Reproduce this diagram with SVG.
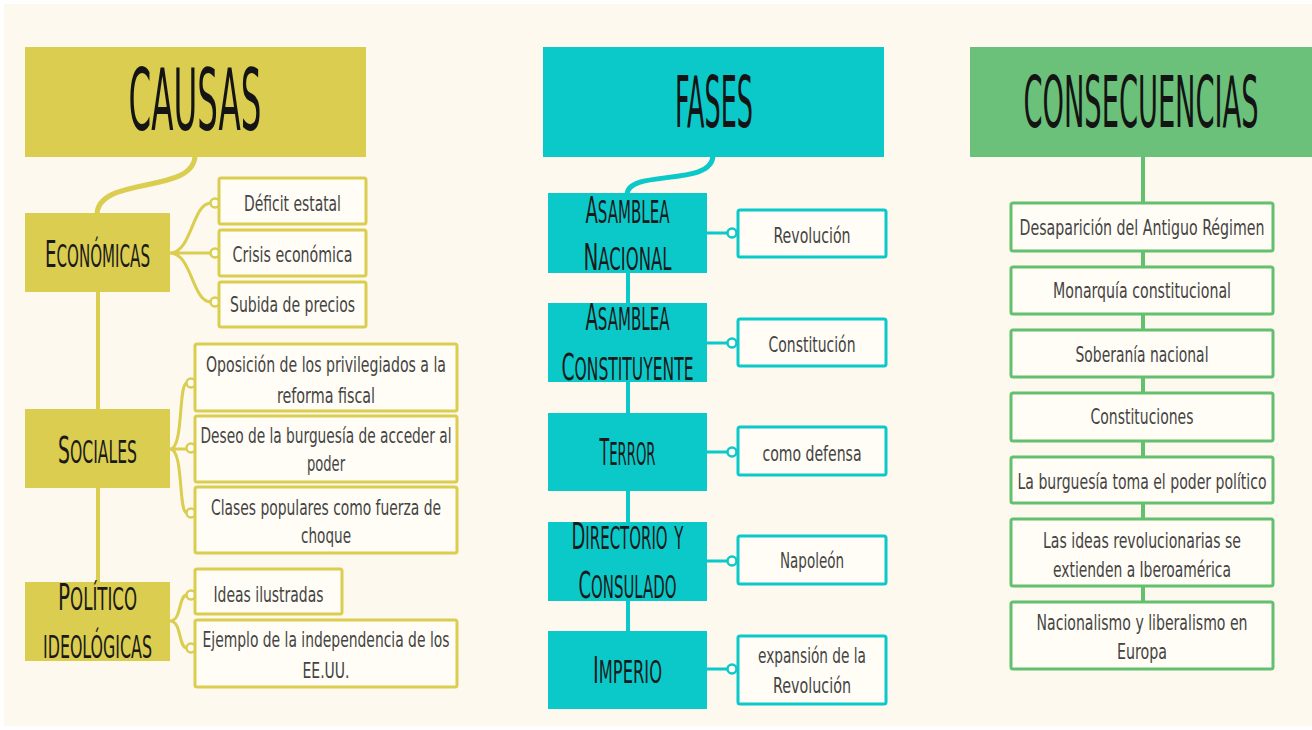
<svg xmlns="http://www.w3.org/2000/svg" width="1312" height="730" viewBox="0 0 1312 730">
<style>
.hd{font-family:"Liberation Sans Narrow","DejaVu Sans Condensed","Liberation Sans",sans-serif;fill:#141414;text-anchor:middle}
.cat{font-family:"Liberation Sans Narrow","DejaVu Sans Condensed","Liberation Sans",sans-serif;fill:#1a1a1a;text-anchor:middle;font-size:38px}
.sc{font-variant:small-caps;font-size:45px}
.tx{font-family:"Liberation Sans Narrow","DejaVu Sans Condensed","Liberation Sans",sans-serif;fill:#444;text-anchor:middle;font-size:21px}
.ol{fill:#dacd50}
.olb{fill:#fffdf5;stroke:#dacd50;stroke-width:3}
.te{fill:#0bc9c9}
.teb{fill:#fffdf5;stroke:#0bc9c9;stroke-width:3}
.gr{fill:#6bc17a}
.grb{fill:#fffdf5;stroke:#62c06f;stroke-width:3}
.lo{fill:none;stroke:#dacd50}
.lt{fill:none;stroke:#0bc9c9}
.lg{fill:none;stroke:#62c06f}
.dot-o{fill:#fffdf5;stroke:#dacd50;stroke-width:2.5}
.dot-t{fill:#fffdf5;stroke:#0bc9c9;stroke-width:2.5}
</style>
<rect x="0" y="0" width="1312" height="730" fill="#ffffff"/>
<rect x="4" y="4" width="1308" height="722" fill="#fdf9ee"/>

<g id="connectors">
  <path class="lo" stroke-width="5" d="M195,155 C195,195 97,175 97,215"/>
  <path class="lo" stroke-width="4" d="M98,292 V409 M98,488 V582"/>
  <path class="lo" stroke-width="3" d="M170,253 C192,253 192,203 211,203 M170,253 H211 M170,253 C192,253 192,302 211,302"/>
  <path class="lo" stroke-width="3" d="M170,449 C184,449 178,383 187,383 M170,449 H187 M170,449 C184,449 178,513 187,513"/>
  <path class="lo" stroke-width="3" d="M170,621 C182,621 178,595 187,595 M170,621 C182,621 178,648 187,648"/>
  <circle class="dot-o" cx="215" cy="203" r="4.5"/>
  <circle class="dot-o" cx="215" cy="253" r="4.5"/>
  <circle class="dot-o" cx="215" cy="302" r="4.5"/>
  <circle class="dot-o" cx="191" cy="383" r="4.5"/>
  <circle class="dot-o" cx="191" cy="448" r="4.5"/>
  <circle class="dot-o" cx="191" cy="513" r="4.5"/>
  <circle class="dot-o" cx="191" cy="595" r="4.5"/>
  <circle class="dot-o" cx="191" cy="648" r="4.5"/>
  <path class="lt" stroke-width="5" d="M713,155 C713,188 627,168 627,195"/>
  <path class="lt" stroke-width="4" d="M628,273 V303 M628,382 V413 M628,491 V522 M628,601 V631"/>
  <path class="lt" stroke-width="3" d="M707,233 H728 M707,343 H728 M707,452 H728 M707,561 H728 M707,669 H728"/>
  <circle class="dot-t" cx="732" cy="233" r="4.5"/>
  <circle class="dot-t" cx="732" cy="343" r="4.5"/>
  <circle class="dot-t" cx="732" cy="452" r="4.5"/>
  <circle class="dot-t" cx="732" cy="561" r="4.5"/>
  <circle class="dot-t" cx="732" cy="669" r="4.5"/>
  <path class="lg" stroke-width="4" d="M1143,157 V602"/>
</g>

<g id="causas">
  <rect class="ol" x="25" y="47" width="341" height="110"/>
  <text class="hd" transform="translate(195,130) scale(0.42,1)" font-size="86" textLength="316.7" lengthAdjust="spacingAndGlyphs">CAUSAS</text>
</g>
<g id="economicas">
  <rect class="ol" x="25" y="213" width="145" height="79"/>
  <text class="cat" transform="translate(97.5,267) scale(0.5,1)" textLength="210" lengthAdjust="spacingAndGlyphs">E<tspan class="sc">conómicas</tspan></text>
</g>
<g id="deficit">
  <rect class="olb" x="219" y="178" width="147" height="46" rx="2"/>
  <text class="tx" transform="translate(292.5,211) scale(0.75,1)" textLength="129.3" lengthAdjust="spacingAndGlyphs">Déficit estatal</text>
</g>
<g id="crisis">
  <rect class="olb" x="219" y="230" width="147" height="46" rx="2"/>
  <text class="tx" transform="translate(292.5,262) scale(0.75,1)" textLength="160" lengthAdjust="spacingAndGlyphs">Crisis económica</text>
</g>
<g id="subida">
  <rect class="olb" x="219" y="282" width="147" height="45" rx="2"/>
  <text class="tx" transform="translate(292.5,312) scale(0.75,1)" textLength="166.7" lengthAdjust="spacingAndGlyphs">Subida de precios</text>
</g>
<g id="sociales">
  <rect class="ol" x="25" y="409" width="145" height="79"/>
  <text class="cat" transform="translate(97.5,463) scale(0.5,1)" textLength="158" lengthAdjust="spacingAndGlyphs">S<tspan class="sc">ociales</tspan></text>
</g>
<g id="oposicion">
  <rect class="olb" x="195" y="344" width="262" height="67" rx="2"/>
  <text class="tx" transform="translate(326,372) scale(0.75,1)" textLength="320" lengthAdjust="spacingAndGlyphs">Oposición de los privilegiados a la</text>
  <text class="tx" transform="translate(326,403) scale(0.75,1)" textLength="130.7" lengthAdjust="spacingAndGlyphs">reforma fiscal</text>
</g>
<g id="deseo">
  <rect class="olb" x="195" y="416" width="262" height="66" rx="2"/>
  <text class="tx" transform="translate(326,443) scale(0.75,1)" textLength="334.7" lengthAdjust="spacingAndGlyphs">Deseo de la burguesía de acceder al</text>
  <text class="tx" transform="translate(326,471) scale(0.75,1)" textLength="50.7" lengthAdjust="spacingAndGlyphs">poder</text>
</g>
<g id="clases">
  <rect class="olb" x="195" y="487" width="262" height="66" rx="2"/>
  <text class="tx" transform="translate(326,515) scale(0.75,1)" textLength="306.7" lengthAdjust="spacingAndGlyphs">Clases populares como fuerza de</text>
  <text class="tx" transform="translate(326,543) scale(0.75,1)" textLength="66.7" lengthAdjust="spacingAndGlyphs">choque</text>
</g>
<g id="politico">
  <rect class="ol" x="25" y="582" width="145" height="79"/>
  <text class="cat" transform="translate(97.5,610) scale(0.5,1)" textLength="158" lengthAdjust="spacingAndGlyphs">P<tspan class="sc">olítico</tspan></text>
  <text class="cat" transform="translate(97.5,658) scale(0.5,1)" textLength="218" lengthAdjust="spacingAndGlyphs"><tspan class="sc">ideológicas</tspan></text>
</g>
<g id="ideas">
  <rect class="olb" x="195" y="569" width="147" height="45" rx="2"/>
  <text class="tx" transform="translate(268.5,602) scale(0.75,1)" textLength="146.7" lengthAdjust="spacingAndGlyphs">Ideas ilustradas</text>
</g>
<g id="ejemplo">
  <rect class="olb" x="195" y="620" width="262" height="67" rx="2"/>
  <text class="tx" transform="translate(326,647) scale(0.75,1)" textLength="329.3" lengthAdjust="spacingAndGlyphs">Ejemplo de la independencia de los</text>
  <text class="tx" transform="translate(326,678) scale(0.75,1)" textLength="62.7" lengthAdjust="spacingAndGlyphs">EE.UU.</text>
</g>

<g id="fases">
  <rect class="te" x="543" y="47" width="341" height="110"/>
  <text class="hd" transform="translate(714,127) scale(0.42,1)" font-size="72" textLength="185.7" lengthAdjust="spacingAndGlyphs">FASES</text>
</g>
<g id="asamblea-nacional">
  <rect class="te" x="548" y="193" width="159" height="80"/>
  <text class="cat" transform="translate(627.5,223) scale(0.5,1)" textLength="168" lengthAdjust="spacingAndGlyphs">A<tspan class="sc">samblea</tspan></text>
  <text class="cat" transform="translate(627.5,270) scale(0.5,1)" textLength="176" lengthAdjust="spacingAndGlyphs">N<tspan class="sc">acional</tspan></text>
</g>
<g id="revolucion">
  <rect class="teb" x="738" y="210" width="148" height="47" rx="2"/>
  <text class="tx" transform="translate(812,243) scale(0.75,1)" textLength="102.7" lengthAdjust="spacingAndGlyphs">Revolución</text>
</g>
<g id="asamblea-constituyente">
  <rect class="te" x="548" y="303" width="159" height="79"/>
  <text class="cat" transform="translate(627.5,330) scale(0.5,1)" textLength="168" lengthAdjust="spacingAndGlyphs">A<tspan class="sc">samblea</tspan></text>
  <text class="cat" transform="translate(627.5,380) scale(0.5,1)" textLength="264" lengthAdjust="spacingAndGlyphs">C<tspan class="sc">onstituyente</tspan></text>
</g>
<g id="constitucion">
  <rect class="teb" x="738" y="319" width="148" height="47" rx="2"/>
  <text class="tx" transform="translate(812,352) scale(0.75,1)" textLength="116" lengthAdjust="spacingAndGlyphs">Constitución</text>
</g>
<g id="terror">
  <rect class="te" x="548" y="413" width="159" height="78"/>
  <text class="cat" transform="translate(627.5,465) scale(0.5,1)" textLength="112" lengthAdjust="spacingAndGlyphs">T<tspan class="sc">error</tspan></text>
</g>
<g id="como-defensa">
  <rect class="teb" x="738" y="427" width="148" height="48" rx="2"/>
  <text class="tx" transform="translate(812,461) scale(0.75,1)" textLength="132" lengthAdjust="spacingAndGlyphs">como defensa</text>
</g>
<g id="directorio">
  <rect class="te" x="548" y="522" width="159" height="79"/>
  <text class="cat" transform="translate(627.5,549) scale(0.5,1)" textLength="224" lengthAdjust="spacingAndGlyphs">D<tspan class="sc">irectorio y</tspan></text>
  <text class="cat" transform="translate(627.5,598) scale(0.5,1)" textLength="196" lengthAdjust="spacingAndGlyphs">C<tspan class="sc">onsulado</tspan></text>
</g>
<g id="napoleon">
  <rect class="teb" x="738" y="536" width="148" height="48" rx="2"/>
  <text class="tx" transform="translate(812,568) scale(0.75,1)" textLength="85.3" lengthAdjust="spacingAndGlyphs">Napoleón</text>
</g>
<g id="imperio">
  <rect class="te" x="548" y="631" width="159" height="78"/>
  <text class="cat" transform="translate(627.5,683) scale(0.5,1)" textLength="138" lengthAdjust="spacingAndGlyphs">I<tspan class="sc">mperio</tspan></text>
</g>
<g id="expansion">
  <rect class="teb" x="738" y="636" width="148" height="68" rx="2"/>
  <text class="tx" transform="translate(812,663) scale(0.75,1)" textLength="144" lengthAdjust="spacingAndGlyphs">expansión de la</text>
  <text class="tx" transform="translate(812,693) scale(0.75,1)" textLength="104" lengthAdjust="spacingAndGlyphs">Revolución</text>
</g>

<g id="consecuencias">
  <rect class="gr" x="970" y="47" width="342" height="110"/>
  <text class="hd" transform="translate(1141,127) scale(0.42,1)" font-size="72" textLength="559.5" lengthAdjust="spacingAndGlyphs">CONSECUENCIAS</text>
</g>
<g id="desaparicion">
  <rect class="grb" x="1011" y="203" width="262" height="48" rx="2"/>
  <text class="tx" transform="translate(1142,235) scale(0.75,1)" textLength="326.7" lengthAdjust="spacingAndGlyphs">Desaparición del Antiguo Régimen</text>
</g>
<g id="monarquia">
  <rect class="grb" x="1011" y="267" width="262" height="47" rx="2"/>
  <text class="tx" transform="translate(1142,298) scale(0.75,1)" textLength="237.3" lengthAdjust="spacingAndGlyphs">Monarquía constitucional</text>
</g>
<g id="soberania">
  <rect class="grb" x="1011" y="330" width="262" height="47" rx="2"/>
  <text class="tx" transform="translate(1142,362) scale(0.75,1)" textLength="177.3" lengthAdjust="spacingAndGlyphs">Soberanía nacional</text>
</g>
<g id="constituciones">
  <rect class="grb" x="1011" y="393" width="262" height="48" rx="2"/>
  <text class="tx" transform="translate(1142,424) scale(0.75,1)" textLength="137.3" lengthAdjust="spacingAndGlyphs">Constituciones</text>
</g>
<g id="burguesia">
  <rect class="grb" x="1011" y="457" width="262" height="46" rx="2"/>
  <text class="tx" transform="translate(1142,489) scale(0.75,1)" textLength="332" lengthAdjust="spacingAndGlyphs">La burguesía toma el poder político</text>
</g>
<g id="ideas-revolucionarias">
  <rect class="grb" x="1011" y="519" width="262" height="67" rx="2"/>
  <text class="tx" transform="translate(1142,548) scale(0.75,1)" textLength="264" lengthAdjust="spacingAndGlyphs">Las ideas revolucionarias se</text>
  <text class="tx" transform="translate(1142,577) scale(0.75,1)" textLength="237.3" lengthAdjust="spacingAndGlyphs">extienden a Iberoamérica</text>
</g>
<g id="nacionalismo">
  <rect class="grb" x="1011" y="602" width="262" height="67" rx="2"/>
  <text class="tx" transform="translate(1142,630) scale(0.75,1)" textLength="281.3" lengthAdjust="spacingAndGlyphs">Nacionalismo y liberalismo en</text>
  <text class="tx" transform="translate(1142,659) scale(0.75,1)" textLength="66.7" lengthAdjust="spacingAndGlyphs">Europa</text>
</g>
</svg>
